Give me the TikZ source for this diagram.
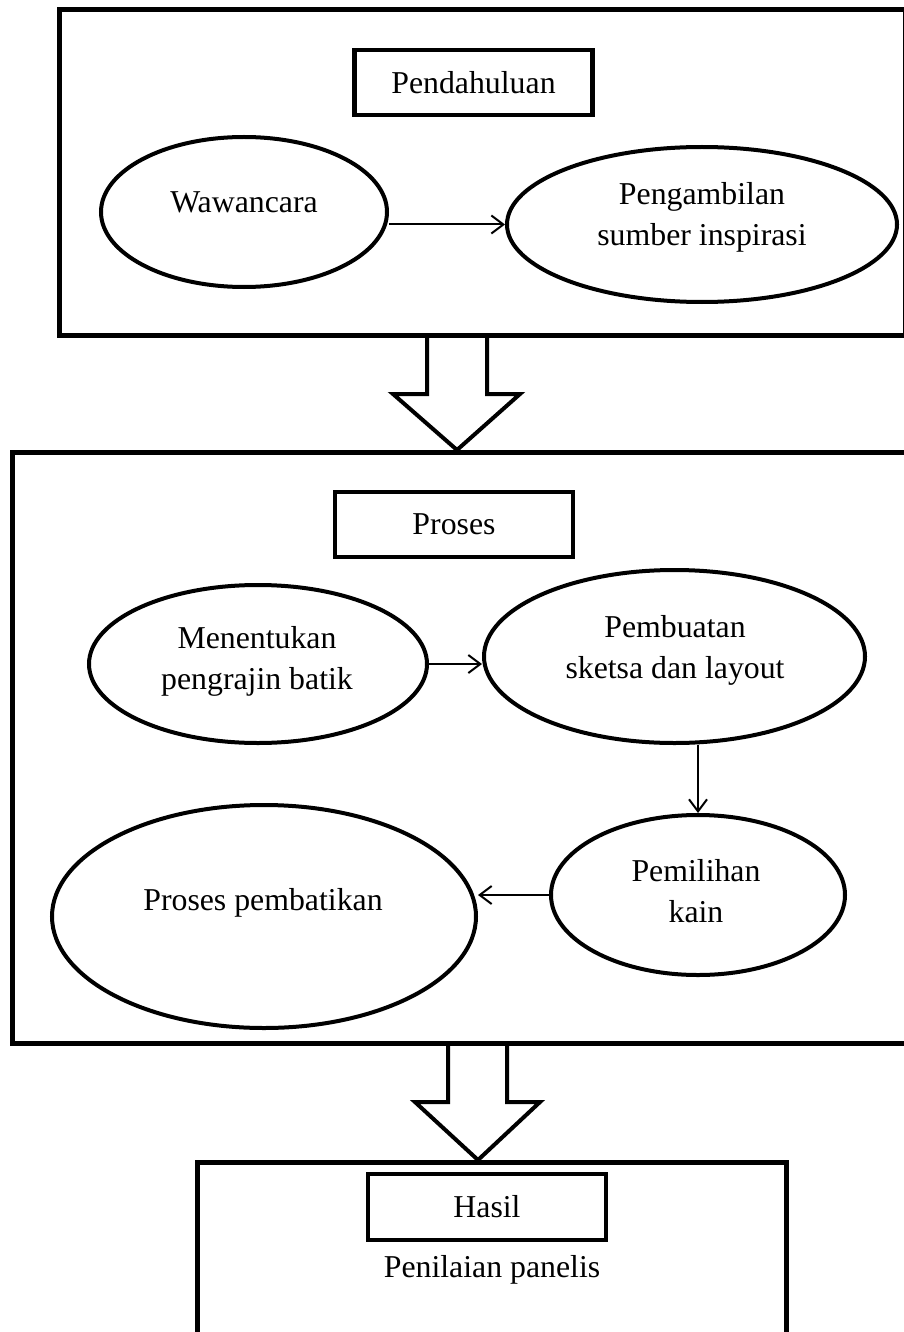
\documentclass[tikz,border=0pt]{standalone}
\usepackage{fontspec}
\setmainfont{Liberation Serif}
\usetikzlibrary{arrows.meta}
\usetikzlibrary{shapes.geometric}

\begin{document}
\begin{tikzpicture}[x=0.5pt,y=-0.5pt,
		frame/.style={line width=2.5pt,line join=miter},
		titlebox/.style={draw,rectangle,line width=2.2pt,minimum width=119pt,minimum height=32.5pt,inner sep=0pt,font=\fontsize{15.9}{20.5}\selectfont},
		oval/.style={draw,ellipse,line width=2pt,inner sep=0pt},
		ovaltext/.style={align=center,inner sep=0pt,font=\fontsize{15.9}{20.5}\selectfont},
		flow/.style={-{Straight Barb[length=6pt,width=9pt]},line width=1pt},
		bigarrow/.style={line width=2pt,line join=miter}]
	\useasboundingbox (0,0) rectangle (904,1332);
	\draw[frame] (59,9.5) rectangle (905,335);
	\draw[frame] (12,452) rectangle (910,1043);
	\draw[frame] (197,1340) -- (197,1162.5) -- (786,1162.5) -- (786,1340);

	\node[titlebox] (pendahuluan) at (473.5,82.5) {Pendahuluan};
	\node[titlebox] (proses) at (454,524.5) {Proses};
	\node[titlebox,minimum height=33pt] (hasil) at (487,1207) {Hasil};
	\node[ovaltext] (panelis) at (492,1270) {Penilaian panelis};

	\node[oval,minimum width=143pt,minimum height=75pt] (wawancara) at (244,212) {};
	\node[oval,minimum width=195pt,minimum height=77.5pt] (sumber) at (702,224.5) {};
	\node[oval,minimum width=169pt,minimum height=79pt] (pengrajin) at (258,664) {};
	\node[oval,minimum width=190.5pt,minimum height=86.5pt] (sketsa) at (674.5,656.5) {};
	\node[oval,minimum width=147pt,minimum height=80pt] (kain) at (698,895) {};
	\node[oval,minimum width=212pt,minimum height=111.5pt] (batik) at (264,916.5) {};

	\node[ovaltext] (wawancaratext) at (244,202) {Wawancara};
	\node[ovaltext] (sumbertext) at (702,217) {Pengambilan\\sumber inspirasi};
	\node[ovaltext] (pengrajintext) at (257,661) {Menentukan\\pengrajin batik};
	\node[ovaltext] (sketsatext) at (675,650) {Pembuatan\\sketsa dan layout};
	\node[ovaltext] (kaintext) at (696,891) {Pemilihan\\kain};
	\node[ovaltext] (batiktext) at (263,903) {Proses pembatikan};

	\draw[flow] (wawancara.east |- sumber.west) -- (sumber.west);
	\draw[flow] (pengrajin.east) -- (pengrajin.east -| sketsa.west);
	\draw[flow] (sketsa.south -| kain.north) -- (kain.north);
	\draw[flow] (kain.west) -- (kain.west -| batik.east);

	\draw[bigarrow] (427,335) -- (427,394) -- (393,394) -- (457,450) -- (520,394) -- (487,394) -- (487,335);
	\draw[bigarrow] (448,1043) -- (448,1102) -- (415,1102) -- (478,1160) -- (540,1102) -- (507,1102) -- (507,1043);
\end{tikzpicture}
\end{document}
